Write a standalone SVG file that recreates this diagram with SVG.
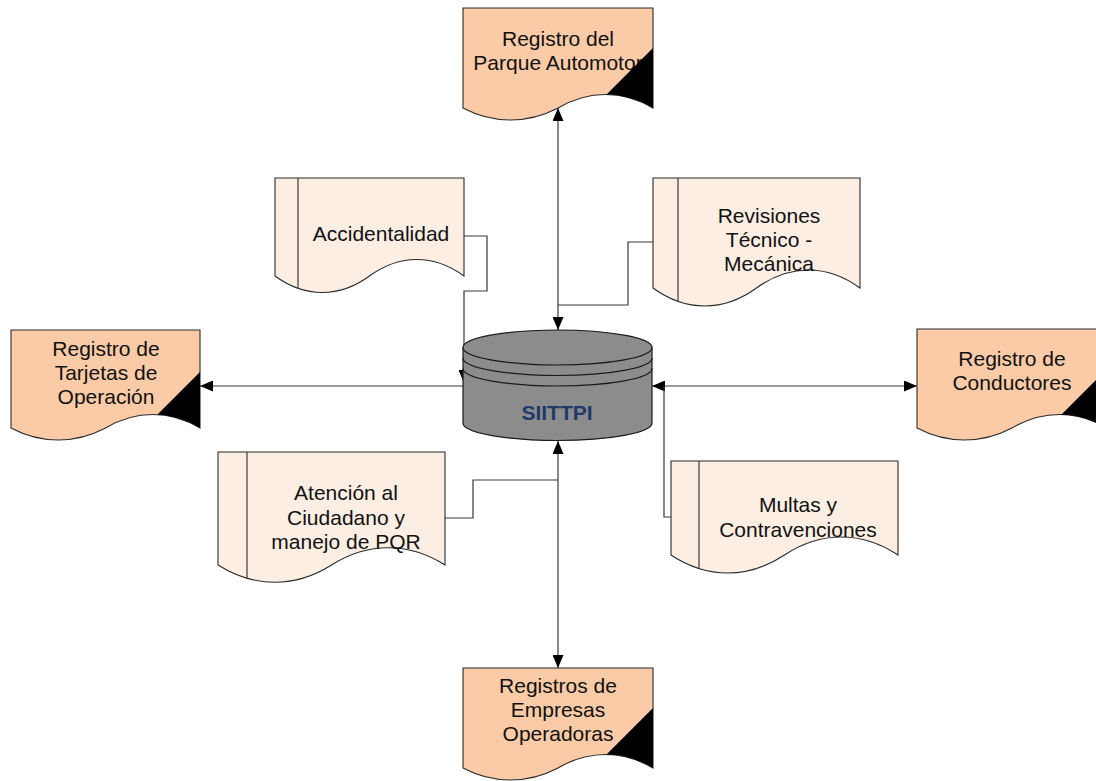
<svg xmlns="http://www.w3.org/2000/svg" width="1096" height="781" viewBox="0 0 1096 781">
  <style>
    .doc-o { fill: #FACBA6; stroke: #2a2a2a; stroke-width: 1.1; }
    .doc-p { fill: #FDEEE3; stroke: #2a2a2a; stroke-width: 1.1; }
    .inner { stroke: #2a2a2a; stroke-width: 1.1; fill: none; }
    .tri { fill: #000; }
    .lbl { font-family: "Liberation Sans", Arial, sans-serif; font-size: 21px; fill: #111; text-anchor: middle; }
    .conn { fill: none; stroke: #3a3a3a; stroke-width: 1.2; }
    .cyl { fill: #8C8C8C; stroke: #1a1a1a; stroke-width: 1.2; }
    .cylline { fill: none; stroke: #1a1a1a; stroke-width: 1.2; }
    .cyltxt { font-family: "Liberation Sans", Arial, sans-serif; font-size: 21px; font-weight: bold; fill: #1F3A68; text-anchor: middle; }
  </style>
  <defs>
    <marker id="arr" markerUnits="userSpaceOnUse" markerWidth="13" markerHeight="11" refX="13" refY="5.5" orient="auto-start-reverse" viewBox="0 0 13 11">
      <path d="M0,0 L13,5.5 L0,11 Z" fill="#000"/>
    </marker>
    <path id="p-top" d="M463,8 H653 V108 C622.6,90 588.4,90 558,108 C527.6,124 493.4,124 463,108 Z"/>
    <path id="p-left" d="M11,330 H200 V428 C169.8,410 135.7,410 105.5,428 C75.3,444 41.2,444 11,428 Z"/>
    <path id="p-right" d="M917,329 H1107 V428 C1076.6,410 1042.4,410 1012,428 C981.6,444 947.4,444 917,428 Z"/>
    <path id="p-bot" d="M463,668 H653 V768 C622.6,750 588.4,750 558,768 C527.6,784 493.4,784 463,768 Z"/>
    <path id="p-acc" d="M275,178 H464 V276 C433.8,254 399.7,254 369.5,276 C339.3,298 305.2,298 275,276 Z"/>
    <path id="p-rev" d="M653,178 H860 V288 C826.9,264 789.6,264 756.5,288 C723.4,312 686.1,312 653,288 Z"/>
    <path id="p-ate" d="M218,452 H445 V565 C408.7,542 367.8,542 331.5,565 C295.2,588 254.3,588 218,565 Z"/>
    <path id="p-mul" d="M671,461 H898 V555 C861.7,531 820.8,531 784.5,555 C748.2,579 707.3,579 671,555 Z"/>
    <clipPath id="c-top"><use href="#p-top"/></clipPath>
    <clipPath id="c-left"><use href="#p-left"/></clipPath>
    <clipPath id="c-right"><use href="#p-right"/></clipPath>
    <clipPath id="c-bot"><use href="#p-bot"/></clipPath>
    <clipPath id="c-acc"><use href="#p-acc"/></clipPath>
    <clipPath id="c-rev"><use href="#p-rev"/></clipPath>
    <clipPath id="c-ate"><use href="#p-ate"/></clipPath>
    <clipPath id="c-mul"><use href="#p-mul"/></clipPath>
  </defs>

  <rect width="1096" height="781" fill="#fff"/>

  <g id="connectors">
    <line class="conn" x1="558" y1="108" x2="558" y2="330" marker-start="url(#arr)" marker-end="url(#arr)"/>
    <polyline class="conn" points="653,242 628,242 628,305 558,305"/>
    <polyline class="conn" points="464,236 487,236 487,291 464,291 464,383" marker-end="url(#arr)"/>
    <line class="conn" x1="463" y1="386" x2="200" y2="386" marker-end="url(#arr)"/>
    <line class="conn" x1="652" y1="386" x2="917" y2="386" marker-start="url(#arr)" marker-end="url(#arr)"/>
    <polyline class="conn" points="671,517 664,517 664,386"/>
    <line class="conn" x1="558" y1="441" x2="558" y2="668" marker-start="url(#arr)" marker-end="url(#arr)"/>
    <polyline class="conn" points="445,518 473,518 473,480 558,480"/>
  </g>

  <g id="siittpi">
    <path class="cyl" d="M463,347.5 V423 A94.5,17.5 0 0 0 652,423 V347.5 Z"/>
    <ellipse class="cyl" cx="557.5" cy="347.5" rx="94.5" ry="17.5"/>
    <path class="cylline" d="M463,358 A94.5,17.5 0 0 0 652,358"/>
    <path class="cylline" d="M463,368.5 A94.5,17.5 0 0 0 652,368.5"/>
    <text class="cyltxt" x="557" y="420">SIITTPI</text>
  </g>

  <g id="registro-parque">
    <use href="#p-top" class="doc-o"/>
    <text class="lbl" x="558" y="46">Registro del</text>
    <text class="lbl" x="558" y="70">Parque Automotor</text>
    <polygon class="tri" clip-path="url(#c-top)" points="653,48 583,118 653,118"/>
  </g>

  <g id="registro-tarjetas">
    <use href="#p-left" class="doc-o"/>
    <text class="lbl" x="106" y="356">Registro de</text>
    <text class="lbl" x="106" y="380">Tarjetas de</text>
    <text class="lbl" x="106" y="404">Operación</text>
    <polygon class="tri" clip-path="url(#c-left)" points="200,372 130,442 200,442"/>
  </g>

  <g id="registro-conductores">
    <use href="#p-right" class="doc-o"/>
    <text class="lbl" x="1012" y="366">Registro de</text>
    <text class="lbl" x="1012" y="390">Conductores</text>
    <polygon class="tri" clip-path="url(#c-right)" points="1107,369 1037,439 1107,439"/>
  </g>

  <g id="registros-empresas">
    <use href="#p-bot" class="doc-o"/>
    <text class="lbl" x="558" y="693">Registros de</text>
    <text class="lbl" x="558" y="717">Empresas</text>
    <text class="lbl" x="558" y="741">Operadoras</text>
    <polygon class="tri" clip-path="url(#c-bot)" points="653,708 583,778 653,778"/>
  </g>

  <g id="accidentalidad">
    <use href="#p-acc" class="doc-p"/>
    <line class="inner" clip-path="url(#c-acc)" x1="298" y1="178" x2="298" y2="320"/>
    <text class="lbl" x="381" y="241">Accidentalidad</text>
  </g>

  <g id="revisiones">
    <use href="#p-rev" class="doc-p"/>
    <line class="inner" clip-path="url(#c-rev)" x1="678" y1="178" x2="678" y2="330"/>
    <text class="lbl" x="769" y="223">Revisiones</text>
    <text class="lbl" x="769" y="247">Técnico -</text>
    <text class="lbl" x="769" y="271">Mecánica</text>
  </g>

  <g id="atencion">
    <use href="#p-ate" class="doc-p"/>
    <line class="inner" clip-path="url(#c-ate)" x1="247" y1="452" x2="247" y2="610"/>
    <text class="lbl" x="346" y="500">Atención al</text>
    <text class="lbl" x="346" y="525">Ciudadano y</text>
    <text class="lbl" x="346" y="549">manejo de PQR</text>
  </g>

  <g id="multas">
    <use href="#p-mul" class="doc-p"/>
    <line class="inner" clip-path="url(#c-mul)" x1="699" y1="461" x2="699" y2="600"/>
    <text class="lbl" x="798" y="512">Multas y</text>
    <text class="lbl" x="798" y="537">Contravenciones</text>
  </g>
</svg>
